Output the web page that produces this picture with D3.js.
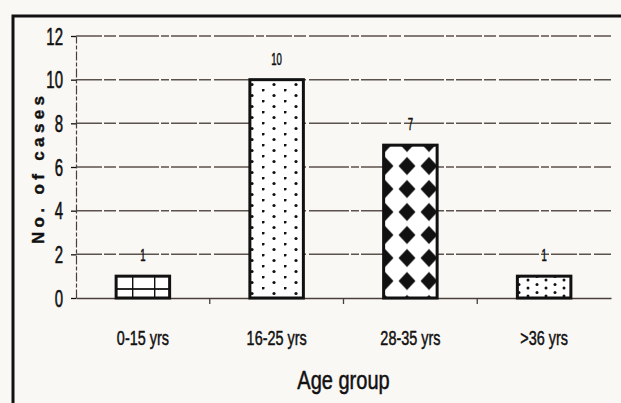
<!DOCTYPE html>
<html>
<head>
<meta charset="utf-8">
<script src="https://cdn.jsdelivr.net/npm/d3@7"></script>
<style>
  html, body { margin: 0; padding: 0; background: #faf8f5; }
  svg { display: block; }
</style>
</head>
<body>
<div id="chart"></div>
<script>
const categories = ["0-15 yrs", "16-25 yrs", "28-35 yrs", ">36 yrs"];
const cases = [1, 10, 7, 1];
const patterns = ["brick", "dots", "diamonds", "sparse"];
const yTicks = [0, 2, 4, 6, 8, 10, 12];

const WIDTH = 621;
const HEIGHT = 403;
const INK = "#111";
const GRID = "#4a3f3a";
const FONT = "\"Liberation Sans\", Arial, sans-serif";

const margin = { top: 36, right: 10, bottom: 105, left: 76 };
const plotW = WIDTH - margin.left - margin.right;
const plotH = HEIGHT - margin.top - margin.bottom;

// squeeze a text into a narrow face (no Arial Narrow available)
function condense(ratio) {
    return function() {
        const w = this.getComputedTextLength();
        d3.select(this)
            .attr("textLength", w * ratio)
            .attr("lengthAdjust", "spacingAndGlyphs");
    };
}

const svg = d3.select("#chart")
    .append("svg")
    .attr("width", WIDTH)
    .attr("height", HEIGHT);

svg.append("rect")
    .attr("width", WIDTH)
    .attr("height", HEIGHT)
    .attr("fill", "#faf8f5");

// fill patterns of the bars
const defs = svg.append("defs");

const brick = defs.append("pattern")
    .attr("id", "brick")
    .attr("patternUnits", "userSpaceOnUse")
    .attr("width", 22).attr("height", 14)
    .attr("x", 122).attr("y", 282);
brick.append("rect").attr("width", 22).attr("height", 14).attr("fill", "#fff");
brick.append("line").attr("x1", 0).attr("x2", 22).attr("y1", 13).attr("y2", 13)
    .attr("stroke", INK).attr("stroke-width", 1.8);
brick.append("line").attr("x1", 0.5).attr("x2", 0.5).attr("y1", 0).attr("y2", 14)
    .attr("stroke", INK).attr("stroke-width", 1.8);

const dots = defs.append("pattern")
    .attr("id", "dots")
    .attr("patternUnits", "userSpaceOnUse")
    .attr("width", 22).attr("height", 11)
    .attr("x", 252).attr("y", 86);
dots.append("rect").attr("width", 22).attr("height", 11).attr("fill", "#fff");
dots.append("circle").attr("cx", 1).attr("cy", 1).attr("r", 1.6).attr("fill", INK);
dots.append("circle").attr("cx", 12).attr("cy", 6.5).attr("r", 1.6).attr("fill", INK);

const diamonds = defs.append("pattern")
    .attr("id", "diamonds")
    .attr("patternUnits", "userSpaceOnUse")
    .attr("width", 22).attr("height", 23)
    .attr("x", 386).attr("y", 141.5);
diamonds.append("rect").attr("width", 22).attr("height", 23).attr("fill", "#fff");
diamonds.append("path")
    .attr("d", "M11,2.5 L19.5,11.5 L11,20.5 L2.5,11.5 Z")
    .attr("fill", INK);

const sparse = defs.append("pattern")
    .attr("id", "sparse")
    .attr("patternUnits", "userSpaceOnUse")
    .attr("width", 18).attr("height", 8)
    .attr("x", 520).attr("y", 282);
sparse.append("rect").attr("width", 18).attr("height", 8).attr("fill", "#fff");
sparse.append("circle").attr("cx", 4).attr("cy", 2).attr("r", 1.5).attr("fill", INK);
sparse.append("circle").attr("cx", 13).attr("cy", 6.5).attr("r", 1.5).attr("fill", INK);

const g = svg.append("g")
    .attr("transform", "translate(" + margin.left + "," + margin.top + ")");

const x = d3.scaleBand()
    .domain(categories)
    .range([0, plotW])
    .padding(0);

const y = d3.scaleLinear()
    .domain([0, 12])
    .range([plotH, 0]);

const barW = x.bandwidth() * 0.4;

// gridlines
g.append("g")
    .selectAll("line")
    .data(yTicks.filter(d => d > 0))
    .join("line")
    .attr("x1", 0)
    .attr("x2", plotW)
    .attr("y1", d => y(d))
    .attr("y2", d => y(d))
    .attr("stroke", GRID)
    .attr("stroke-width", 1.5)
    .attr("stroke-opacity", 0.9)
    .attr("stroke-dasharray", "26,2,12,3,40,2,8,2");

// y axis
const yAxis = d3.axisLeft(y)
    .tickValues(yTicks)
    .tickSize(5)
    .tickPadding(8)
    .tickSizeOuter(0);

g.append("g")
    .attr("class", "yAxis")
    .call(yAxis)
    .call(s => s.select(".domain")
        .attr("stroke", GRID)
        .attr("stroke-width", 1.2)
        .attr("stroke-dasharray", "9,2,4,2"))
    .call(s => s.selectAll(".tick line").attr("stroke", INK).attr("stroke-width", 1.3))
    .selectAll("text")
    .attr("fill", INK)
    .attr("stroke", INK)
    .attr("stroke-width", 0.6)
    .attr("font-family", FONT)
    .attr("font-size", 23)
    .attr("dy", "0.36em")
    .each(condense(0.65));

// x axis
const xAxis = d3.axisBottom(x)
    .tickSize(0)
    .tickPadding(33)
    .tickSizeOuter(0);

g.append("g")
    .attr("class", "xAxis")
    .attr("transform", "translate(0," + plotH + ")")
    .call(xAxis)
    .call(s => s.select(".domain").attr("stroke", GRID).attr("stroke-width", 1.6))
    .selectAll("text")
    .attr("fill", INK)
    .attr("stroke", INK)
    .attr("stroke-width", 0.5)
    .attr("font-family", FONT)
    .attr("font-size", 20)
    .each(condense(0.72));

// little ticks between the groups
g.append("g")
    .selectAll("line")
    .data(categories.slice(1))
    .join("line")
    .attr("x1", d => x(d))
    .attr("x2", d => x(d))
    .attr("y1", plotH)
    .attr("y2", plotH + 6)
    .attr("stroke", GRID)
    .attr("stroke-width", 1.3);

// bars
const data = categories.map((c, i) => ({ cat: c, value: cases[i], fill: patterns[i] }));

g.append("g")
    .selectAll("rect")
    .data(data)
    .join("rect")
    .attr("x", d => x(d.cat) + (x.bandwidth() - barW) / 2)
    .attr("y", d => y(d.value))
    .attr("width", barW)
    .attr("height", d => plotH - y(d.value))
    .attr("fill", d => "url(#" + d.fill + ")")
    .attr("stroke", INK)
    .attr("stroke-width", 3);

// value labels
g.append("g")
    .selectAll("text")
    .data(data)
    .join("text")
    .attr("x", d => x(d.cat) + x.bandwidth() / 2)
    .attr("y", d => y(d.value) - 15)
    .attr("text-anchor", "middle")
    .attr("font-family", FONT)
    .attr("font-size", 16)
    .attr("fill", INK)
    .attr("stroke", INK)
    .attr("stroke-width", 0.5)
    .text(d => d.value)
    .each(condense(0.6));

// axis titles
svg.append("text")
    .attr("transform", "translate(44,170) rotate(-90)")
    .attr("text-anchor", "middle")
    .attr("font-family", FONT)
    .attr("font-weight", "bold")
    .attr("font-size", 17)
    .attr("fill", INK)
    .attr("stroke", INK)
    .attr("stroke-width", 0.4)
    .text("No. of cases")
    .attr("textLength", 148)
    .attr("lengthAdjust", "spacing");

svg.append("text")
    .attr("x", margin.left + plotW / 2)
    .attr("y", 389)
    .attr("text-anchor", "middle")
    .attr("font-family", FONT)
    .attr("font-size", 25)
    .attr("fill", INK)
    .attr("stroke", INK)
    .attr("stroke-width", 0.5)
    .text("Age group")
    .each(condense(0.8));

// outer frame, running off the bottom and right of the picture
svg.append("rect")
    .attr("x", 13)
    .attr("y", 16)
    .attr("width", 640)
    .attr("height", 430)
    .attr("fill", "none")
    .attr("stroke", INK)
    .attr("stroke-width", 3);
</script>
</body>
</html>
